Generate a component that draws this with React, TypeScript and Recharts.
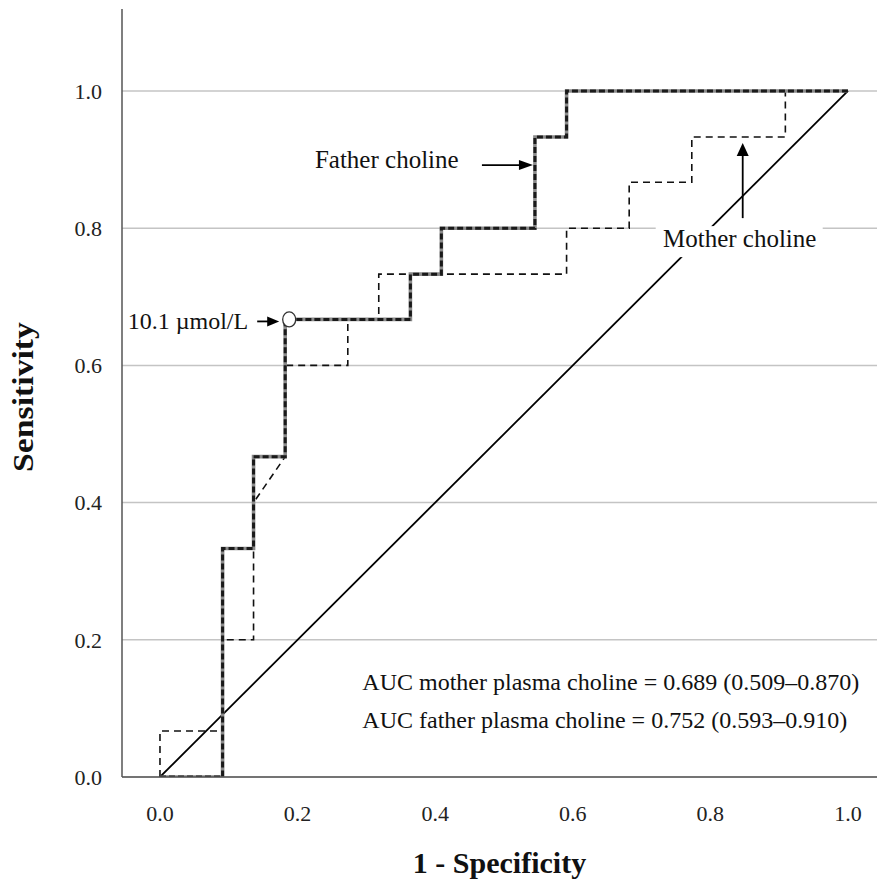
import React from "react";
import {
  LineChart,
  Line,
  XAxis,
  YAxis,
  CartesianGrid,
  ReferenceDot,
  Label,
} from "recharts";

// ROC steps (11 negatives, 15 positives)
const fatherFpr = [0, 0.091, 0.091, 0.136, 0.136, 0.182, 0.182, 0.364, 0.364, 0.409, 0.409, 0.545, 0.545, 0.591, 0.591, 1.0];
const fatherTpr = [0, 0, 0.333, 0.333, 0.467, 0.467, 0.667, 0.667, 0.733, 0.733, 0.8, 0.8, 0.933, 0.933, 1.0, 1.0];

const motherFpr = [0, 0, 0.091, 0.091, 0.136, 0.136, 0.182, 0.182, 0.273, 0.273, 0.318, 0.318, 0.591, 0.591, 0.682, 0.682, 0.773, 0.773, 0.909, 0.909, 1.0];
const motherTpr = [0, 0.067, 0.067, 0.2, 0.2, 0.4, 0.467, 0.6, 0.6, 0.667, 0.667, 0.733, 0.733, 0.8, 0.8, 0.867, 0.867, 0.933, 0.933, 1.0, 1.0];

const refFpr = [0, 1];
const refTpr = [0, 1];

const X_TICKS = [0, 0.2, 0.4, 0.6, 0.8, 1.0];
const Y_TICKS = [0, 0.2, 0.4, 0.6, 0.8, 1.0];

const cutoff = { x: 0.182, y: 0.667, label: "10.1 µmol/L" };
const aucLines = [
  "AUC mother plasma choline = 0.689 (0.509–0.870)",
  "AUC father plasma choline = 0.752 (0.593–0.910)",
];

const toPoints = (xs: number[], ys: number[]) => xs.map((x, i) => ({ x, y: ys[i] }));

const FONT = "'Liberation Serif', 'Times New Roman', serif";
const INK = "#111";

export default function App() {
  const father = toPoints(fatherFpr, fatherTpr);
  const mother = toPoints(motherFpr, motherTpr);
  const diag = toPoints(refFpr, refTpr);

  return (
    <div style={{ position: "absolute", left: 0, top: 0, width: 877, height: 881, background: "#fff" }}>
      <LineChart width={877} height={881} margin={{ top: 9, right: 0, bottom: 0, left: 0 }}>
        <CartesianGrid vertical={false} syncWithTicks stroke="#c4c4c4" strokeWidth={1.5} />
        <XAxis
          type="number"
          dataKey="x"
          domain={[-0.0552, 1.0422]}
          ticks={X_TICKS}
          allowDataOverflow
          tickFormatter={(v) => v.toFixed(1)}
          tick={{ fontSize: 22, fill: "#222", fontFamily: FONT }}
          tickSize={0}
          tickMargin={28}
          height={104}
          axisLine={{ stroke: "#555", strokeWidth: 1.5 }}
        >
          <Label
            content={({ viewBox }: any) => (
              <text
                x={viewBox.x + viewBox.width / 2}
                y={873}
                textAnchor="middle"
                fontFamily={FONT}
                fontWeight="bold"
                fontSize={30}
                fill={INK}
              >
                1 - Specificity
              </text>
            )}
          />
        </XAxis>
        <YAxis
          type="number"
          dataKey="y"
          domain={[0, 1.1195]}
          ticks={Y_TICKS}
          allowDataOverflow
          tickFormatter={(v) => v.toFixed(1)}
          tick={{ fontSize: 22, fill: "#222", fontFamily: FONT }}
          tickSize={0}
          tickMargin={20}
          width={122}
          axisLine={{ stroke: "#555", strokeWidth: 1.5 }}
        >
          <Label
            content={({ viewBox }: any) => {
              const cy = viewBox.y + viewBox.height / 2 + 4;
              return (
                <text
                  x={33}
                  y={cy}
                  transform={`rotate(-90, 33, ${cy})`}
                  textAnchor="middle"
                  fontFamily={FONT}
                  fontWeight="bold"
                  fontSize={30}
                  textLength={150}
                  lengthAdjust="spacingAndGlyphs"
                  fill={INK}
                >
                  Sensitivity
                </text>
              );
            }}
          />
        </YAxis>

        {/* chance line */}
        <Line data={diag} dataKey="y" stroke="#000" strokeWidth={1.8} dot={false} isAnimationActive={false} />

        {/* mother: thin dashed */}
        <Line data={mother} dataKey="y" stroke={INK} strokeWidth={1.6} strokeDasharray="7 5" dot={false} isAnimationActive={false} />

        {/* father: thick grey with dark dashes on top */}
        <Line data={father} dataKey="y" stroke="#8a8a8a" strokeWidth={3.6} dot={false} isAnimationActive={false} />
        <Line data={father} dataKey="y" stroke="#1a1a1a" strokeWidth={3} strokeDasharray="6 3" dot={false} isAnimationActive={false} />

        {/* Father choline arrow */}
        <ReferenceDot
          x={0.545}
          y={0.892}
          r={0}
          shape={({ cx, cy }: any) => (
            <g>
              <line x1={cx - 53} y1={cy} x2={cx - 14} y2={cy} stroke="#000" strokeWidth={1.8} />
              <polygon points={`${cx - 2},${cy} ${cx - 16},${cy - 5} ${cx - 16},${cy + 5}`} fill="#000" />
              <text x={cx - 220} y={cy + 3} fontFamily={FONT} fontSize={25} fill={INK}>
                Father choline
              </text>
            </g>
          )}
        />

        {/* Mother choline arrow + boxed label */}
        <ReferenceDot
          x={0.847}
          y={0.924}
          r={0}
          shape={({ cx, cy }: any) => (
            <g>
              <line x1={cx} y1={cy + 10} x2={cx} y2={cy + 75} stroke="#000" strokeWidth={1.8} />
              <polygon points={`${cx},${cy} ${cx - 6},${cy + 13} ${cx + 6},${cy + 13}`} fill="#000" />
              <rect x={cx - 87} y={cy + 83} width={167} height={31} fill="#fff" />
              <text x={cx - 3} y={cy + 104} textAnchor="middle" fontFamily={FONT} fontSize={25} fill={INK}>
                Mother choline
              </text>
            </g>
          )}
        />

        {/* cut-off point */}
        <ReferenceDot
          x={cutoff.x}
          y={cutoff.y}
          r={0}
          shape={({ cx, cy }: any) => (
            <g>
              <line x1={cx - 28} y1={cy + 2} x2={cx - 16} y2={cy + 2} stroke="#000" strokeWidth={1.8} />
              <polygon points={`${cx - 6},${cy + 2} ${cx - 18},${cy - 3} ${cx - 18},${cy + 7}`} fill="#000" />
              <ellipse cx={cx + 4} cy={cy} rx={6.5} ry={7.5} fill="#fff" stroke="#333" strokeWidth={1.3} />
              <text x={cx - 37} y={cy + 10} textAnchor="end" fontFamily={FONT} fontSize={24} fill={INK}>
                {cutoff.label}
              </text>
            </g>
          )}
        />

        {/* AUC text */}
        <ReferenceDot
          x={0.3}
          y={0.1}
          r={0}
          shape={({ cx, cy }: any) => (
            <g>
              {aucLines.map((t, i) => (
                <text key={t} x={cx - 4} y={cy - 18 + i * 38} fontFamily={FONT} fontSize={24} fill={INK}>
                  {t}
                </text>
              ))}
            </g>
          )}
        />
      </LineChart>
    </div>
  );
}
